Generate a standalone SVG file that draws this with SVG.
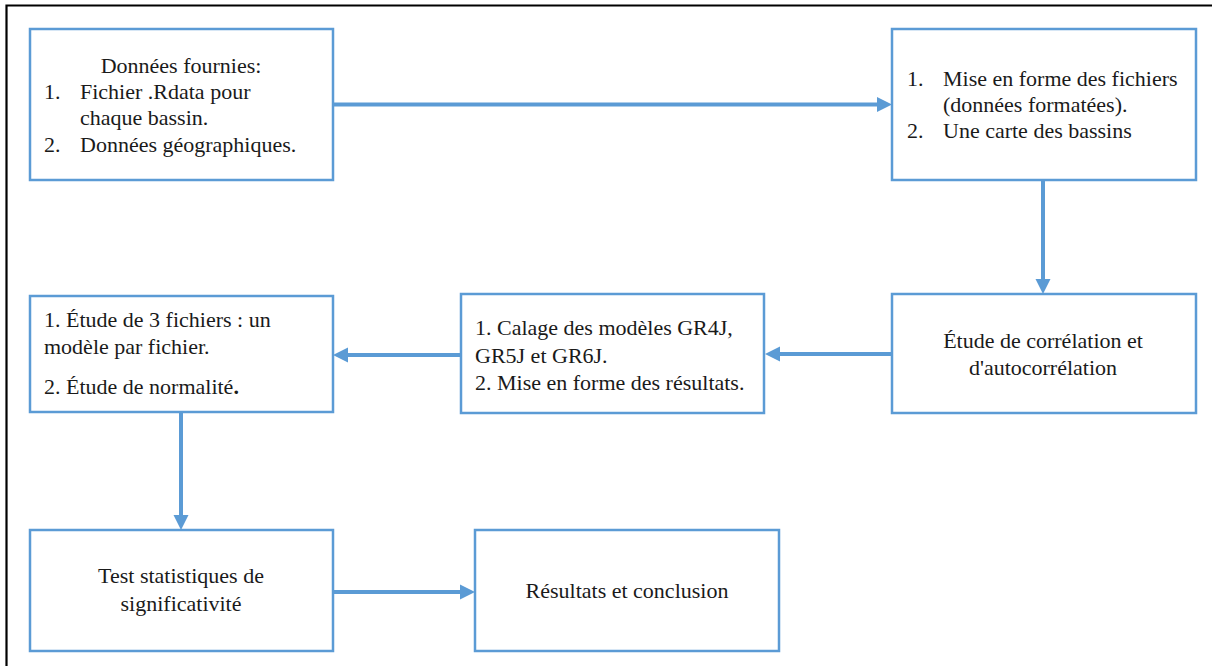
<svg xmlns="http://www.w3.org/2000/svg" width="1212" height="666" viewBox="0 0 1212 666">
<style>
.box{fill:#fff;stroke:#5B9BD5;stroke-width:2.5}
.t{font-family:'Liberation Serif',Tinos,'Times New Roman',Times,'DejaVu Serif',serif;font-size:22px;fill:#1a1a1a}
.c{text-anchor:middle}
.con{stroke:#5B9BD5;stroke-width:4;fill:none}
.head{fill:#5B9BD5}
</style>
<rect x="0" y="0" width="1212" height="666" fill="#fff"/>
<path d="M6.5 666 V5.5 H1212" fill="none" stroke="#000" stroke-width="2.2"/>
<g id="n1">
<rect class="box" x="30" y="29" width="303" height="151"/>
<text class="t c" x="181" y="73">Données fournies:</text>
<text class="t" x="44" y="99">1.</text><text class="t" x="80" y="99">Fichier .Rdata pour</text>
<text class="t" x="80" y="125">chaque bassin.</text>
<text class="t" x="44" y="152">2.</text><text class="t" x="80" y="152">Données géographiques.</text>
</g>
<g id="n2">
<rect class="box" x="892" y="29" width="304" height="151"/>
<text class="t" x="907" y="86">1.</text><text class="t" x="943" y="86">Mise en forme des fichiers</text>
<text class="t" x="943" y="112">(données formatées).</text>
<text class="t" x="907" y="138">2.</text><text class="t" x="943" y="138">Une carte des bassins</text>
</g>
<g id="n3">
<rect class="box" x="892" y="294" width="304" height="119"/>
<text class="t c" x="1043" y="348">Étude de corrélation et</text>
<text class="t c" x="1043" y="375">d'autocorrélation</text>
</g>
<g id="n4">
<rect class="box" x="461" y="294" width="303" height="119"/>
<text class="t" x="475" y="335">1. Calage des modèles GR4J,</text>
<text class="t" x="475" y="363">GR5J et GR6J.</text>
<text class="t" x="475" y="390">2. Mise en forme des résultats.</text>
</g>
<g id="n5">
<rect class="box" x="30" y="296" width="303" height="116"/>
<text class="t" x="44" y="327">1. Étude de 3 fichiers : un</text>
<text class="t" x="44" y="354">modèle par fichier.</text>
<text class="t" x="44" y="394">2. Étude de normalité<tspan font-weight="bold">.</tspan></text>
</g>
<g id="n6">
<rect class="box" x="30" y="530" width="303" height="121"/>
<text class="t c" x="181" y="583">Test statistiques de</text>
<text class="t c" x="181" y="611">significativité</text>
</g>
<g id="n7">
<rect class="box" x="475" y="530" width="304" height="121"/>
<text class="t c" x="627" y="598">Résultats et conclusion</text>
</g>
<g id="connectors">
<line class="con" x1="334" y1="104.5" x2="878" y2="104.5"/>
<polygon class="head" points="892,104.5 877,97 877,112"/>
<line class="con" x1="1043" y1="181" x2="1043" y2="280"/>
<polygon class="head" points="1043,294 1035.5,279 1050.5,279"/>
<line class="con" x1="891" y1="354" x2="779" y2="354"/>
<polygon class="head" points="765,354 780,346.5 780,361.5"/>
<line class="con" x1="460" y1="355" x2="347" y2="355"/>
<polygon class="head" points="333,355 348,347.5 348,362.5"/>
<line class="con" x1="181" y1="413" x2="181" y2="516"/>
<polygon class="head" points="181,530 173.5,515 188.5,515"/>
<line class="con" x1="334" y1="592" x2="461" y2="592"/>
<polygon class="head" points="475,592 460,584.5 460,599.5"/>
</g>
</svg>
